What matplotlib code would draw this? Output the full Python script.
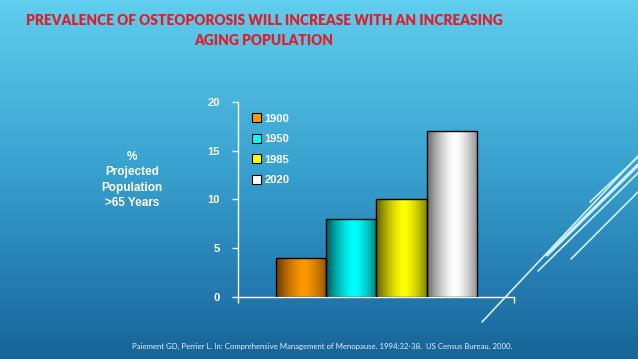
import numpy as np
import matplotlib
matplotlib.use('Agg')
import matplotlib.pyplot as plt
from matplotlib.colors import LinearSegmentedColormap
from matplotlib.patches import Patch

years = ['1900', '1950', '1985', '2020']
pct_over65 = [4, 8, 10, 17]
bar_colors = ['#FF9900', '#00FFFF', '#FFFF00', '#FFFFFF']
bar_dark = ['#7A4200', '#006A6A', '#707000', '#7A7A7A']
yticks = [0, 5, 10, 15, 20]

title = 'PREVALENCE OF OSTEOPOROSIS WILL INCREASE WITH AN INCREASING\nAGING POPULATION'
ylabel = '%\nProjected\nPopulation\n>65 Years'
source = 'Paiement GD, Perrier L. In: Comprehensive Management of Menopause. 1994:32-38.  US Census Bureau. 2000.'

fig = plt.figure(figsize=(6.38, 3.59), dpi=100)

# slide background gradient
bg = fig.add_axes([0, 0, 1, 1], zorder=-10)
bg_cmap = LinearSegmentedColormap.from_list('bg', [(0, '#60CEEE'), (0.45, '#3AA3D0'),
                                                   (0.75, '#2680B5'), (1, '#186497')])
bg.imshow(np.linspace(0, 1, 256).reshape(-1, 1), aspect='auto', cmap=bg_cmap,
          extent=[0, 1, 0, 1], transform=bg.transAxes)
bg.axis('off')

# decorative lines, bottom right (pixel coords)
for (x0, y0, x1, y1, lw) in [(482, 322, 639, 155, 1.2), (538, 271, 639, 172, 1.2),
                            (547, 255, 639, 164, 2.3), (571, 259, 639, 191, 1.2),
                            (590, 202, 639, 156, 1.2)]:
    fig.add_artist(plt.Line2D([x0 / 638, x1 / 638], [1 - y0 / 359, 1 - y1 / 359],
                              color='#D2F0F9', lw=lw, solid_capstyle='round'))

ax = fig.add_axes([238 / 638, 62 / 359, 276 / 638, 195.3 / 359])
ax.set_facecolor('none')
x = np.arange(len(years))
bars = ax.bar(x, pct_over65, width=1.0, color='none', edgecolor='black', lw=1.0, zorder=3)

# cylinder-like shading inside each bar
u = np.linspace(0, 1, 200)
prof = 1 - np.clip(np.abs(u - 0.55) / 0.5, 0, 1) ** 1.5
for b, c, d in zip(bars, bar_colors, bar_dark):
    cm = LinearSegmentedColormap.from_list('b', [d, c])
    im = ax.imshow(prof.reshape(1, -1), aspect='auto', cmap=cm, vmin=0, vmax=1,
                   extent=[b.get_x(), b.get_x() + b.get_width(), 0, b.get_height()], zorder=2)
    im.set_clip_path(b)

ax.set_xlim(-1.25, 4.24)
ax.set_ylim(0, 20)
ax.set_yticks(yticks)
ax.set_xticks([-1.25, 4.24])
ax.set_xticklabels([])
for s in ['top', 'right']:
    ax.spines[s].set_visible(False)
for s in ['left', 'bottom']:
    ax.spines[s].set_color('white')
    ax.spines[s].set_linewidth(1.0)
ax.tick_params(axis='y', colors='white', length=4, width=1, pad=9, labelsize=8)
ax.tick_params(axis='x', colors='white', length=4, width=1)
for t in ax.get_yticklabels():
    t.set_fontweight('bold')
    t.set_fontfamily('Liberation Sans')

handles = [Patch(facecolor=c, edgecolor='black', lw=0.8) for c in bar_colors]
leg = ax.legend(handles, years, loc='upper left', bbox_to_anchor=(0.05, 0.94),
                frameon=False, borderpad=0, borderaxespad=0, handlelength=0.85,
                handleheight=0.85, handletextpad=0.3, labelspacing=0.92,
                prop={'family': 'Liberation Sans', 'weight': 'bold', 'size': 8})
for t in leg.get_texts():
    t.set_color('white')

fig.text(132 / 638, 1 - 180 / 359, ylabel, ha='center', va='center', color='white',
         fontsize=8.5, fontweight='bold', family='Liberation Sans', linespacing=1.35,
         multialignment='center')

fig.text(264 / 638, 1 - 30.5 / 359, title, ha='center', va='center', color='#DE1E2A',
         fontsize=9.9, fontweight='heavy', family=['Lato', 'DejaVu Sans'],
         linespacing=1.55)

fig.text(322 / 638, 1 - 346 / 359, source, ha='center', va='center', color='#E4F2FA',
         fontsize=5.6, family=['Lato', 'DejaVu Sans'])

fig.savefig('out.png', dpi=100)
